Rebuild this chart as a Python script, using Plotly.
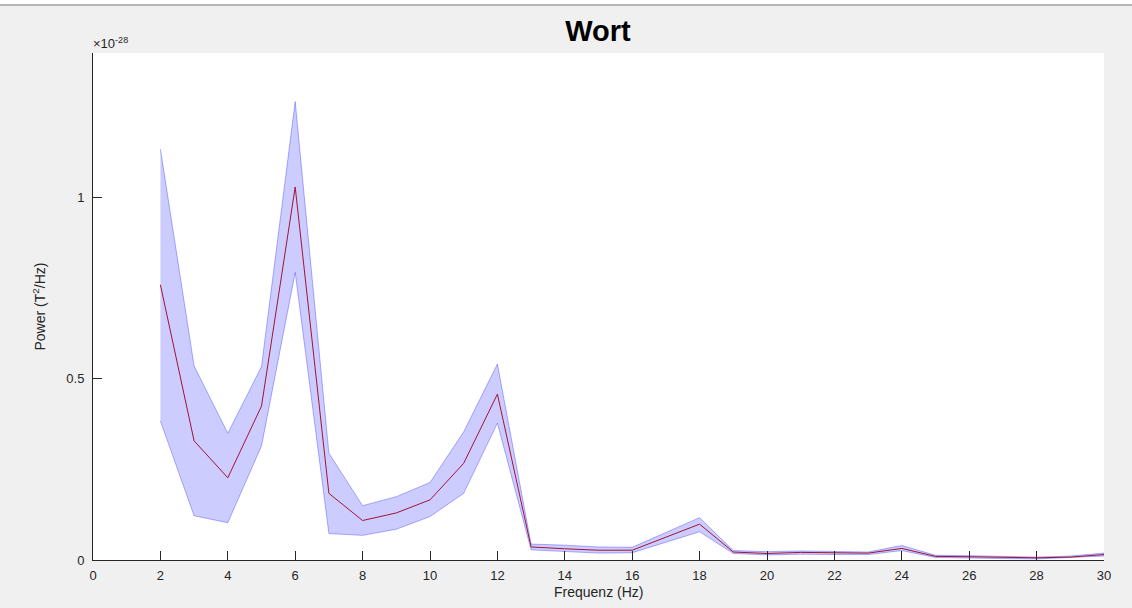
import plotly.graph_objects as go

freq = list(range(2, 31))
mean_power = [0.76, 0.329, 0.227, 0.425, 1.03, 0.184, 0.109, 0.13, 0.166, 0.267, 0.458,
              0.036, 0.031, 0.027, 0.027, 0.062, 0.099, 0.022, 0.018, 0.021, 0.020, 0.019,
              0.032, 0.010, 0.009, 0.007, 0.006, 0.008, 0.015]
upper_power = [1.135, 0.536, 0.35, 0.534, 1.266, 0.295, 0.15, 0.175, 0.214, 0.354, 0.541,
               0.044, 0.041, 0.036, 0.035, 0.075, 0.117, 0.026, 0.023, 0.025, 0.024, 0.022,
               0.040, 0.013, 0.012, 0.010, 0.008, 0.011, 0.019]
lower_power = [0.384, 0.122, 0.103, 0.315, 0.794, 0.073, 0.068, 0.085, 0.12, 0.184, 0.378,
               0.028, 0.023, 0.019, 0.020, 0.050, 0.078, 0.018, 0.014, 0.016, 0.015, 0.015,
               0.026, 0.007, 0.006, 0.004, 0.003, 0.006, 0.011]
x_ticks = list(range(0, 31, 2))
y_ticks = [0, 0.5, 1]
y_tick_labels = ["0", "0.5", "1"]

fig = go.Figure()
fig.add_trace(go.Scatter(
    x=freq + freq[::-1],
    y=upper_power + lower_power[::-1],
    fill="toself",
    fillcolor="rgba(0,0,255,0.2)",
    line=dict(color="rgba(0,0,255,0.3)", width=1),
    mode="lines",
    hoverinfo="skip",
    showlegend=False,
))
fig.add_trace(go.Scatter(
    x=freq, y=mean_power, mode="lines",
    line=dict(color="rgb(162,20,47)", width=1),
    showlegend=False,
))

font_fam = "Liberation Sans, Arial, Helvetica, sans-serif"
axis_col = "#262626"

fig.update_layout(
    width=1132, height=608,
    margin=dict(l=93, r=28, t=53, b=48),
    paper_bgcolor="#f0f0f0",
    plot_bgcolor="white",
    font=dict(family=font_fam, size=13, color=axis_col),
    title=dict(text="<b>Wort</b>", x=0.5283, xanchor="center", y=0.95, yanchor="middle",
               font=dict(size=29, color="black", family=font_fam)),
    xaxis=dict(range=[0, 30], tickvals=x_ticks, ticks="inside", ticklen=9, tickwidth=1,
               tickcolor=axis_col, showline=True, linecolor=axis_col, linewidth=1,
               showgrid=False, zeroline=False, mirror=False, ticklabelstandoff=3,
               tickfont=dict(size=13, color=axis_col)),
    yaxis=dict(range=[0, 1.4], tickvals=y_ticks, ticktext=y_tick_labels, ticks="inside",
               ticklen=9, tickwidth=1, tickcolor=axis_col, showline=True,
               linecolor=axis_col, linewidth=1, showgrid=False, zeroline=False,
               mirror=False, ticklabelstandoff=5, tickfont=dict(size=13, color=axis_col)),
    shapes=[
        dict(type="rect", xref="paper", yref="paper", x0=-0.1, x1=1.1,
             y0=1 + 48 / 507, y1=1 + 60 / 507, fillcolor="white", line=dict(width=0), layer="below"),
        dict(type="line", xref="paper", yref="paper", x0=-0.1, x1=1.1,
             y0=1 + 48 / 507, y1=1 + 48 / 507, line=dict(color="#a0a0a0", width=1.5)),
    ],
    annotations=[
        dict(text="Frequenz (Hz)", xref="paper", yref="paper", x=0.5, y=-32 / 507,
             xanchor="center", yanchor="middle", showarrow=False,
             font=dict(size=14, color=axis_col)),
        dict(text="Power (T<sup>2</sup>/Hz)", xref="paper", yref="paper",
             x=(39 - 93) / 1011, y=0.5, xanchor="center", yanchor="middle",
             textangle=-90, showarrow=False, font=dict(size=14, color=axis_col)),
        dict(text="×10<sup>-28</sup>", xref="paper", yref="paper", x=-0.002, y=1.0,
             xanchor="left", yanchor="bottom", showarrow=False,
             font=dict(size=13, color=axis_col)),
    ],
)

fig.write_html("out.html")
